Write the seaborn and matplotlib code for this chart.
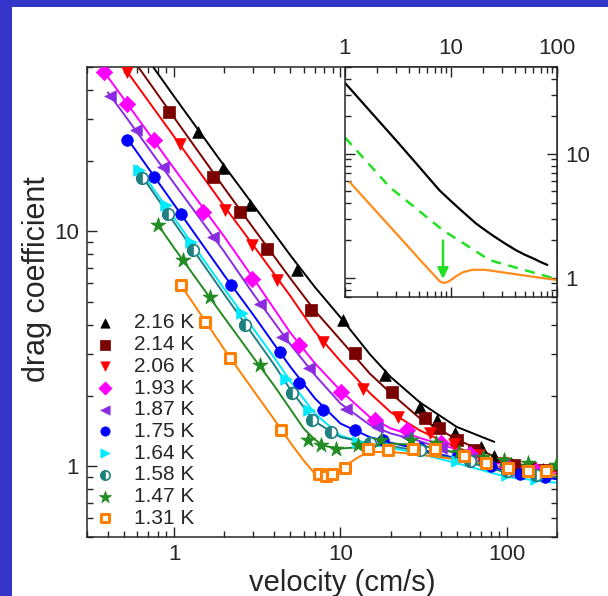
import seaborn as sns
import matplotlib.pyplot as plt
from matplotlib.patches import Rectangle
from matplotlib.markers import MarkerStyle
from matplotlib.ticker import LogLocator, NullFormatter
from matplotlib.legend_handler import HandlerTuple

sns.set_style("ticks")
plt.rcParams["font.family"] = ["Liberation Sans", "DejaVu Sans"]

labels = ["2.16 K", "2.14 K", "2.06 K", "1.93 K", "1.87 K",
          "1.75 K", "1.64 K", "1.58 K", "1.47 K", "1.31 K"]
colors = ["#000000", "#7a0000", "#ff0000", "#ff00ff", "#8a2be2",
          "#0000ff", "#00eaff", "#1f8080", "#228b22", "#ff8000"]
markers = ["^", "s", "v", "D", "<", "o", ">", "o", "*", "s"]

# measured points (velocity cm/s, drag coefficient)
v_216 = [1.39, 1.98, 2.88, 5.51, 10.3, 18.5, 30.1, 38, 49.1, 69.6, 83.7, 106, 133, 165]
cd_216 = [26.5, 18.5, 12.9, 6.82, 4.18, 2.44, 1.79, 1.57, 1.38, 1.21, 1.11, 1.03, 0.99, 0.97]
v_214 = [0.937, 1.72, 2.5, 3.62, 6.64, 12.2, 20.3, 32.3, 38.9, 50.3, 63.4, 111, 137, 168]
cd_214 = [32.2, 17.0, 12.1, 8.44, 4.61, 3.02, 2.07, 1.60, 1.45, 1.29, 1.17, 1.01, 0.98, 0.96]
v_206 = [0.524, 1.08, 2.02, 2.94, 4.17, 7.81, 13.7, 22.2, 34.6, 48, 68, 95]
cd_206 = [47.6, 23.6, 12.3, 8.72, 6.18, 3.38, 2.14, 1.62, 1.38, 1.24, 1.12, 1.03]
v_193 = [0.378, 0.524, 0.76, 1.49, 2.93, 5.64, 10.1, 16.1, 25, 40, 60, 100, 150]
cd_193 = [47.6, 34.9, 24.4, 12.1, 6.29, 3.27, 2.07, 1.57, 1.42, 1.25, 1.13, 1.0, 0.95]
v_187 = [0.415, 0.588, 0.854, 1.72, 3.29, 4.45, 6.49, 10.8, 16.5, 25, 40, 60, 100, 150]
cd_187 = [37.5, 26.9, 18.8, 9.46, 4.92, 3.55, 2.61, 1.76, 1.47, 1.33, 1.2, 1.08, 0.95, 0.92]
v_175 = [0.524, 0.76, 1.10, 2.21, 4.35, 5.64, 7.81, 12.2, 18, 30, 50, 80, 120, 170]
cd_175 = [24.4, 17.0, 11.9, 5.89, 3.06, 2.25, 1.73, 1.42, 1.29, 1.2, 1.1, 1.0, 0.93, 0.9]
v_164 = [0.616, 0.894, 1.27, 2.55, 4.69, 6.5, 12.7, 20, 50, 100, 150]
cd_164 = [18.2, 12.9, 9.0, 4.47, 2.36, 1.73, 1.27, 1.2, 1.05, 0.92, 0.88]
v_158 = [0.646, 0.916, 1.30, 2.67, 5.14, 6.79, 8.78, 15, 30, 60, 100, 150]
cd_158 = [16.8, 11.9, 8.3, 3.98, 2.04, 1.57, 1.40, 1.25, 1.17, 1.05, 0.95, 0.92]
v_147 = [0.797, 1.13, 1.64, 3.29, 6.34, 7.64, 9.42, 12.7, 17.6, 26.5, 37.5, 51.5, 71.4, 96, 134, 197]
cd_147 = [10.6, 7.53, 5.25, 2.69, 1.29, 1.23, 1.18, 1.23, 1.29, 1.29, 1.25, 1.15, 1.095, 1.06, 1.03, 1.01]
v_131 = [1.10, 1.53, 2.18, 4.37, 7.46, 8.2, 8.9, 10.6, 14.6, 19.4, 27.4, 37.1, 55, 74.6, 101, 133, 172]
cd_131 = [5.89, 4.11, 2.90, 1.43, 0.93, 0.91, 0.93, 0.98, 1.19, 1.17, 1.19, 1.19, 1.11, 1.03, 0.98, 0.955, 0.955]

# fitted curves
fv_216 = [0.72, 1, 2, 3, 5, 7, 10, 15, 20, 30, 50, 84]
fc_216 = [52, 37.5, 19, 12.9, 7.9, 5.8, 4.3, 3.0, 2.4, 1.87, 1.47, 1.27]
fv_214 = [0.61, 1, 2, 3, 5, 7, 10, 15, 20, 30, 50, 100, 200]
fc_214 = [50, 30.5, 15.3, 10.3, 6.3, 4.6, 3.45, 2.48, 2.05, 1.6, 1.3, 1.04, 0.96]
fv_206 = [0.52, 1, 2, 3, 5, 7, 10, 15, 20, 30, 50, 100, 200]
fc_206 = [48, 25.3, 12.8, 8.7, 5.3, 3.75, 2.8, 2.05, 1.7, 1.42, 1.2, 1.02, 0.95]
fv_193 = [0.37, 0.5, 1, 2, 3, 5, 7, 10, 15, 20, 30, 50, 100, 200]
fc_193 = [49, 36.5, 18.5, 9.5, 6.3, 3.7, 2.75, 2.1, 1.62, 1.45, 1.32, 1.18, 1.0, 0.93]
fv_187 = [0.4, 0.5, 1, 2, 3, 5, 7, 10, 15, 20, 30, 50, 100, 200]
fc_187 = [39, 31.5, 16, 8.2, 5.4, 3.3, 2.45, 1.85, 1.5, 1.38, 1.28, 1.13, 0.96, 0.9]
fv_175 = [0.52, 1, 2, 3, 4, 5, 7, 10, 15, 20, 30, 50, 100, 200]
fc_175 = [25, 13, 6.5, 4.4, 3.3, 2.65, 1.95, 1.52, 1.33, 1.26, 1.18, 1.08, 0.95, 0.88]
fv_164 = [0.6, 1, 2, 3, 4, 5, 7, 10, 15, 20, 30, 50, 100, 200]
fc_164 = [19, 11.4, 5.7, 3.85, 2.9, 2.3, 1.68, 1.35, 1.24, 1.2, 1.13, 1.03, 0.9, 0.85]
fv_158 = [0.64, 1, 2, 3, 4, 5, 7, 10, 15, 20, 30, 50, 100, 200]
fc_158 = [17.2, 10.9, 5.4, 3.6, 2.7, 2.12, 1.55, 1.33, 1.25, 1.22, 1.16, 1.07, 0.94, 0.9]
fv_147 = [0.79, 1, 2, 3, 4, 5, 6, 7, 8, 10, 12, 15, 20, 30, 50, 100, 200]
fc_147 = [10.8, 8.5, 4.3, 2.9, 2.2, 1.75, 1.45, 1.3, 1.22, 1.19, 1.2, 1.22, 1.25, 1.23, 1.14, 1.03, 0.97]
fv_131 = [1.05, 2, 3, 4, 5, 6, 7, 7.8, 8.6, 9.5, 11, 13, 15, 20, 30, 55, 100, 200]
fc_131 = [6.2, 3.15, 2.1, 1.58, 1.26, 1.06, 0.93, 0.885, 0.88, 0.92, 1.02, 1.1, 1.15, 1.15, 1.12, 1.06, 0.98, 0.92]

# inset curves
in_v_black = [1, 2, 3.06, 5, 7.8, 10, 12, 14.5, 17.2, 21, 25, 32, 40.9, 50, 60, 70, 81]
in_cd_black = [37.2, 19.1, 12.7, 7.85, 5.06, 4.15, 3.6, 3.12, 2.74, 2.42, 2.18, 1.9, 1.67, 1.53, 1.43, 1.34, 1.27]
in_v_green = [1, 2.64, 5, 8.38, 14, 23, 45, 90, 100]
in_cd_green = [13.5, 5.38, 3.46, 2.42, 1.83, 1.39, 1.18, 1.0, 0.99]
in_v_orange = [1.11, 2, 3, 5, 7, 7.8, 8.3, 8.7, 9.3, 10, 11.2, 13, 16, 21, 40, 70, 100]
in_cd_orange = [5.9, 3.38, 2.31, 1.42, 1.04, 0.94, 0.915, 0.91, 0.925, 0.96, 1.03, 1.11, 1.16, 1.16, 1.07, 1.0, 0.96]

points = [(v_216, cd_216), (v_214, cd_214), (v_206, cd_206), (v_193, cd_193), (v_187, cd_187),
          (v_175, cd_175), (v_164, cd_164), (v_158, cd_158), (v_147, cd_147), (v_131, cd_131)]
fits = [(fv_216, fc_216), (fv_214, fc_214), (fv_206, fc_206), (fv_193, fc_193), (fv_187, fc_187),
        (fv_175, fc_175), (fv_164, fc_164), (fv_158, fc_158), (fv_147, fc_147), (fv_131, fc_131)]

fig = plt.figure(figsize=(6.08, 5.96), dpi=100, facecolor="#3434c8")
fig.patches.append(Rectangle((12 / 608, 0), 1, 1 - 7 / 596, transform=fig.transFigure,
                             facecolor="white", edgecolor="none", zorder=-1))

ax = fig.add_axes([87 / 608, 59 / 596, 470 / 608, 470 / 596])
ax.set_xscale("log")
ax.set_yscale("log")

for (fv, fc), c in zip(fits, colors):
    sns.lineplot(x=fv, y=fc, ax=ax, color=c, lw=1.4, sort=False, estimator=None, zorder=2)

handles = []
for (v, cd), c, m, lab in zip(points, colors, markers, labels):
    if lab == "1.31 K":
        sns.scatterplot(x=v, y=cd, ax=ax, marker=m, s=55, facecolor="white",
                        edgecolor=c, linewidth=2.2, zorder=3)
        handles.append(ax.collections[-1])
    elif lab == "1.58 K":
        sns.scatterplot(x=v, y=cd, ax=ax, marker="o", s=70, facecolor="white",
                        edgecolor=c, linewidth=1.2, zorder=3)
        h1 = ax.collections[-1]
        sns.scatterplot(x=v, y=cd, ax=ax, marker=MarkerStyle("o", fillstyle="left"), s=70,
                        color=c, edgecolor=c, linewidth=0.5, zorder=3)
        handles.append((h1, ax.collections[-1]))
    else:
        size = 130 if m == "*" else 70
        sns.scatterplot(x=v, y=cd, ax=ax, marker=m, s=size, color=c,
                        edgecolor=c, linewidth=0.5, zorder=3)
        handles.append(ax.collections[-1])

ax.set_xlim(0.3, 200)
ax.set_ylim(0.5, 50)
ax.set_xticks([1, 10, 100])
ax.set_xticklabels(["1", "10", "100"])
ax.set_yticks([1, 10])
ax.set_yticklabels(["1", "10"])
ax.xaxis.set_minor_locator(LogLocator(subs=range(2, 10)))
ax.yaxis.set_minor_locator(LogLocator(subs=range(2, 10)))
ax.xaxis.set_minor_formatter(NullFormatter())
ax.yaxis.set_minor_formatter(NullFormatter())
ax.tick_params(which="both", direction="in", top=True, right=True, labelsize=16, width=1)
ax.tick_params(which="major", length=7)
ax.tick_params(which="minor", length=4)
ax.tick_params(axis="x", pad=5)
ax.tick_params(axis="y", pad=6)
for s in ax.spines.values():
    s.set_linewidth(1.1)

ax.set_xlabel("velocity (cm/s)", fontsize=21)
ax.set_ylabel("drag coefficient", fontsize=22)
ax.xaxis.set_label_coords(0.543, -0.069)
ax.yaxis.set_label_coords(-0.074, 0.549)

ax.legend(handles, labels, loc="lower left", bbox_to_anchor=(-0.011, -0.007), frameon=False,
          fontsize=15, labelspacing=0.13, handlelength=1.0, handletextpad=0.9,
          markerscale=0.8, borderaxespad=0.2, handler_map={tuple: HandlerTuple(ndivide=1)})

# inset
ax_in = fig.add_axes([345 / 608, 299 / 596, 212 / 608, 230 / 596], zorder=5)
ax_in.set_facecolor("white")
ax_in.set_xscale("log")
ax_in.set_yscale("log")
sns.lineplot(x=in_v_black, y=in_cd_black, ax=ax_in, color="black", lw=1.6, estimator=None)
sns.lineplot(x=in_v_green, y=in_cd_green, ax=ax_in, color="#22e022", lw=1.8,
             estimator=None, linestyle=(0, (4, 3)))
sns.lineplot(x=in_v_orange, y=in_cd_orange, ax=ax_in, color="#ff8c1a", lw=1.6, estimator=None)
ax_in.annotate("", xy=(8.4, 0.93), xytext=(8.4, 2.1),
               arrowprops=dict(arrowstyle="-|>", color="#22e022", lw=1.8, mutation_scale=16))
ax_in.set_xlim(1, 100)
ax_in.set_ylim(0.7, 50)
ax_in.set_xticks([1, 10, 100])
ax_in.set_xticklabels(["1", "10", "100"])
ax_in.set_yticks([1, 10])
ax_in.set_yticklabels(["1", "10"])
ax_in.xaxis.set_minor_locator(LogLocator(subs=range(2, 10)))
ax_in.yaxis.set_minor_locator(LogLocator(subs=range(2, 10)))
ax_in.xaxis.set_minor_formatter(NullFormatter())
ax_in.yaxis.set_minor_formatter(NullFormatter())
ax_in.tick_params(which="both", direction="in", top=True, right=True, bottom=True, left=True,
                  labeltop=True, labelbottom=False, labelright=True, labelleft=False,
                  labelsize=16, width=1)
ax_in.tick_params(which="major", length=7)
ax_in.tick_params(which="minor", length=4)
ax_in.tick_params(axis="x", pad=6)
ax_in.tick_params(axis="y", pad=6)
for s in ax_in.spines.values():
    s.set_linewidth(1.1)
ax_in.set_xlabel("")
ax_in.set_ylabel("")

fig.savefig("out.png", dpi=100, facecolor=fig.get_facecolor())
